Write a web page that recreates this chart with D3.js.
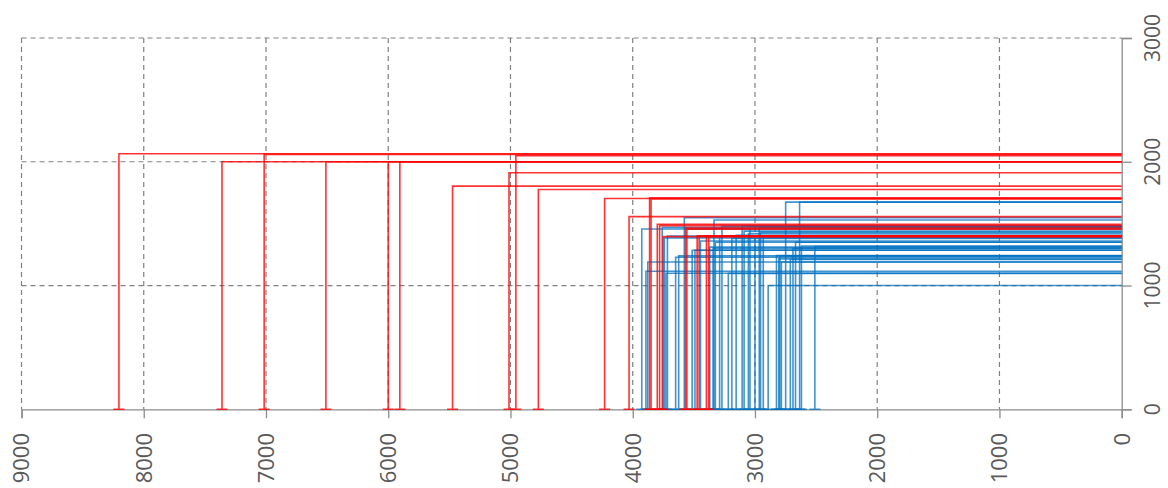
<!DOCTYPE html>
<html>
<head>
<meta charset="utf-8">
<title>Drop lines</title>
<script src="https://d3js.org/d3.v7.min.js"></script>
<style>
  body { margin: 0; background: #fff; }
  .tick-label { font-family: "Open Sans", sans-serif; font-size: 22px; fill: #595959; }
</style>
</head>
<body>
<script>
// red series
var redX = [8203, 7360, 7015, 6510, 6000, 5905, 5474, 5012, 4956, 4772, 4230, 4030, 3862, 3850, 3799, 3780, 3752, 3568, 3557, 3473, 3457, 3397, 3378];
var redY = [2065, 2000, 2060, 2000, 2000, 2000, 1803, 1911, 2050, 1776, 1703, 1557, 1709, 1700, 1495, 1484, 1395, 1464, 1455, 1400, 1400, 1400, 1395];
// blue series
var blueX = [3926, 3892, 3877, 3759, 3741, 3728, 3716, 3649, 3624, 3578, 3514, 3491, 3446, 3370, 3343, 3335, 3324, 3289, 3270, 3218, 3189, 3154, 3105, 3089, 3054, 3041, 3000, 2965, 2954, 2932, 2892, 2824, 2805, 2796, 2784, 2749, 2711, 2689, 2668, 2635, 2620, 2510];
var blueY = [1457, 1115, 1190, 1470, 1385, 1099, 1400, 1229, 1240, 1549, 1285, 1285, 1360, 1310, 1300, 1530, 1350, 1400, 1480, 1098, 1380, 1405, 1480, 1440, 1420, 1480, 1400, 1470, 1430, 1390, 1000, 1242, 1215, 1240, 1190, 1674, 1210, 1300, 1350, 1674, 1320, 1315];
// ticks
var xTicks = [9000, 8000, 7000, 6000, 5000, 4000, 3000, 2000, 1000, 0];
var yTicks = [0, 1000, 2000, 3000];

const w = 1168, h = 488;
const svg = d3.select("body").append("svg").attr("width", w).attr("height", h);

const x = d3.scaleLinear().domain([9000, 0]).range([21.5, 1121.7]);
const y = d3.scaleLinear().domain([0, 3000]).range([409.3, 38]);

// gridlines
svg.append("g").selectAll("line").data(xTicks.filter(d => d !== 0)).enter().append("line")
  .attr("x1", d => x(d)).attr("x2", d => x(d))
  .attr("y1", y(3000)).attr("y2", y(0))
  .attr("stroke", "#808080").attr("stroke-width", 1.2).attr("stroke-dasharray", "5,4");
svg.append("g").selectAll("line").data(yTicks.filter(d => d !== 0)).enter().append("line")
  .attr("x1", x(9000)).attr("x2", x(0))
  .attr("y1", d => y(d)).attr("y2", d => y(d))
  .attr("stroke", "#808080").attr("stroke-width", 1.2).attr("stroke-dasharray", "5,4");

// axes
const xAxis = d3.axisBottom(x).tickValues(xTicks).tickSize(9).tickFormat("");
svg.append("g").attr("transform", "translate(0," + y(0) + ")").call(xAxis)
  .call(g => g.selectAll("line, path").attr("stroke", "#8c8c8c").attr("stroke-width", 1.3));
const yAxis = d3.axisRight(y).tickValues(yTicks).tickSize(10).tickFormat("");
svg.append("g").attr("transform", "translate(" + x(0) + ",0)").call(yAxis)
  .call(g => g.selectAll("line, path").attr("stroke", "#8c8c8c").attr("stroke-width", 1.3));

// tick labels, rotated
svg.append("g").selectAll("text").data(xTicks).enter().append("text")
  .attr("class", "tick-label")
  .attr("transform", d => "translate(" + x(d) + ",433) rotate(-90)")
  .attr("text-anchor", "end").attr("dy", "0.36em")
  .text(d => d);
svg.append("g").selectAll("text").data(yTicks).enter().append("text")
  .attr("class", "tick-label")
  .style("font-size", "21px")
  .attr("transform", d => "translate(1152," + y(d) + ") rotate(-90)")
  .attr("text-anchor", "middle").attr("dy", "0.36em")
  .text(d => d);

function drop(px, py) {
  const X = x(px), Y = y(py), X0 = x(0), Y0 = y(0);
  return "M" + X0 + "," + Y + "H" + X + "V" + Y0 + "M" + (X - 5.5) + "," + Y0 + "H" + (X + 5.5);
}

function series(xs, ys, color, op) {
  svg.append("g").selectAll("path").data(xs.map((d, i) => [d, ys[i]])).enter().append("path")
    .attr("d", d => drop(d[0], d[1]))
    .attr("fill", "none").attr("stroke", color)
    .attr("stroke-width", 1.6).attr("stroke-opacity", op);
}
series(blueX, blueY, "#0070c0", 0.75);
series(redX, redY, "#ff0000", 0.8);
</script>
</body>
</html>
